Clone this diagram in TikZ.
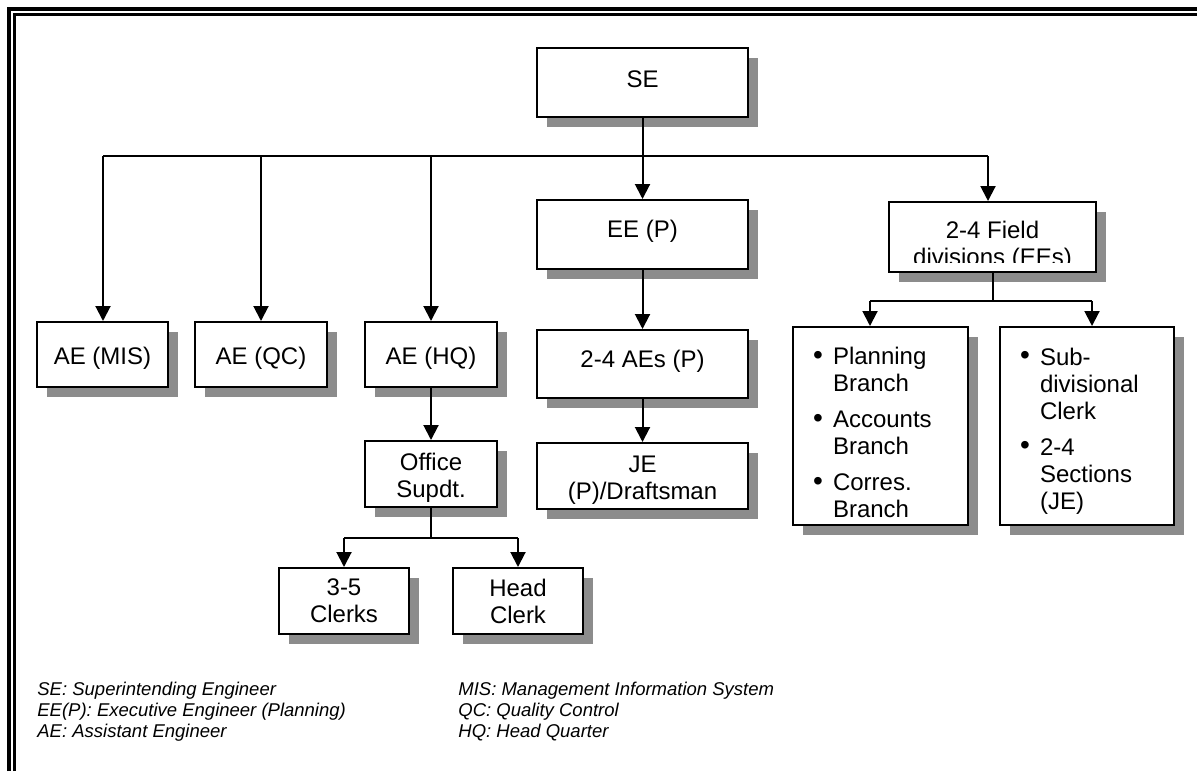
\documentclass[tikz,border=0pt]{standalone}
\usepackage{fontspec}
\setmainfont{Liberation Sans}
\usetikzlibrary{arrows.meta,shadows}
\definecolor{shgray}{gray}{0.55}
% list bullet and hanging indent for the branch boxes
\newcommand{\bul}{\makebox[10pt][l]{\raisebox{0.3pt}{\fontsize{14}{14}\selectfont\textbullet}}}
\newcommand{\ind}{\hspace*{10pt}}
% strut that pushes the first line of a box down
\newcommand{\topstrut}[1]{\rule{0pt}{#1}}
\begin{document}
\begin{tikzpicture}[x=0.5pt,y=-0.5pt,
  box/.style={draw=black,line width=1pt,fill=white,rectangle,inner sep=0pt,
    font=\fontsize{12}{13.5}\selectfont,align=center,
    general shadow={shadow xshift=5pt,shadow yshift=-5pt,fill=shgray}},
  listbox/.style={box,align=left,inner xsep=10pt,inner ysep=0pt},
  conn/.style={line width=1pt},
  arr/.style={line width=1pt,-{Triangle[length=7.5pt,width=7.5pt]}},
  legend/.style={anchor=base west,inner sep=0pt,
    font=\fontsize{9.25}{10.5}\selectfont\itshape},
  boxtext/.style={anchor=base,inner sep=0pt,font=\fontsize{12}{13.5}\selectfont}]
\useasboundingbox (0,0) rectangle (1197,771);

% double frame along the top and left edges
\draw[line width=2pt] (9,771) -- (9,9) -- (1197,9);
\draw[line width=1.5pt] (14.5,771) -- (14.5,14.5) -- (1197,14.5);

% boxes
\node[box,minimum width=105.5pt,minimum height=34.5pt,text height=4.5pt,text depth=0pt]
  (se) at (642.5,82.5) {SE};
\node[box,minimum width=105.5pt,minimum height=34.5pt,text height=2.5pt,text depth=0pt]
  (eep) at (642.5,234.5) {EE (P)};
\node[box,minimum width=105.5pt,minimum height=34pt,text height=3pt,text depth=0pt]
  (aep) at (642.5,364) {2-4 AEs (P)};
\node[box,minimum width=105.5pt,minimum height=33pt]
  (je) at (642.5,476) {\topstrut{12.1pt}JE\\(P)/Draftsman};

\node[box,minimum width=65.5pt,minimum height=32.5pt,text height=9.5pt,text depth=0pt]
  (mis) at (102.5,354.5) {AE (MIS)};
\node[box,minimum width=66pt,minimum height=32.5pt,text height=9.5pt,text depth=0pt]
  (qc) at (261,354.5) {AE (QC)};
\node[box,minimum width=66pt,minimum height=32.5pt,text height=9.5pt,text depth=0pt]
  (hq) at (431,354.5) {AE (HQ)};
\node[box,minimum width=66pt,minimum height=33pt]
  (office) at (431,474) {\topstrut{12.9pt}Office\\Supdt.};
\node[box,minimum width=65pt,minimum height=33pt] (clerks) at (344,601) {3-5\\Clerks};
\node[box,minimum width=65pt,minimum height=33pt] (head) at (518,601) {Head\\Clerk};

\node[box,minimum width=103.5pt,minimum height=35pt] (fd) at (992.5,237) {};
\coordinate (fdclip) at (0,262);
\begin{scope}
  \clip (fd.north west) rectangle (fd.east |- fdclip);
  \node[boxtext] (fd1) at (992.5,238) {2-4 Field};
  \node[boxtext] (fd2) at (992.5,265) {divisions (EEs)};
\end{scope}

\node[listbox,text width=67.5pt,minimum height=99pt] (plan) at (880.5,426)
  {\topstrut{15.25pt}\bul Planning\\ \ind Branch\\[4.5pt]
   \bul Accounts\\ \ind Branch\\[4.5pt]
   \bul Corres.\\ \ind Branch};
\node[listbox,text width=67pt,minimum height=99pt] (sub) at (1087,426)
  {\topstrut{13.8pt}\bul Sub-\\ \ind divisional\\ \ind Clerk\\[4.5pt]
   \bul 2-4\\ \ind Sections\\ \ind (JE)};

% connectors
\coordinate (busL) at (103,156);
\coordinate (busR) at (988,156);
\draw[conn] (busL) -- (busR);
\draw[arr] (se.south) -- (eep.north);
\draw[arr] (busL) -- (busL |- mis.north);
\draw[arr] (qc.north |- busL) -- (qc.north);
\draw[arr] (hq.north |- busL) -- (hq.north);
\draw[arr] (busR) -- (busR |- fd.north);
\draw[arr] (eep.south) -- (aep.north);
\draw[arr] (aep.south) -- (je.north);
\draw[arr] (hq.south) -- (office.north);

\coordinate (ob) at (431,538);
\draw[conn] (office.south) -- (ob);
\draw[conn] (clerks.north |- ob) -- (head.north |- ob);
\draw[arr] (clerks.north |- ob) -- (clerks.north);
\draw[arr] (head.north |- ob) -- (head.north);

\coordinate (fb) at (992.5,301);
\coordinate (fbl) at (870,301);
\coordinate (fbr) at (1092,301);
\draw[conn] (fd.south) -- (fb);
\draw[conn] (fbl) -- (fbr);
\draw[arr] (fbl) -- (fbl |- plan.north);
\draw[arr] (fbr) -- (fbr |- sub.north);

% abbreviations
\node[legend] (l1) at (37,695) {SE: Superintending Engineer};
\node[legend] (l2) at (37,716) {EE(P): Executive Engineer (Planning)};
\node[legend] (l3) at (37,737) {AE: Assistant Engineer};
\node[legend] (l4) at (458,695) {MIS: Management Information System};
\node[legend] (l5) at (458,716) {QC: Quality Control};
\node[legend] (l6) at (458,737) {HQ: Head Quarter};
\end{tikzpicture}
\end{document}
